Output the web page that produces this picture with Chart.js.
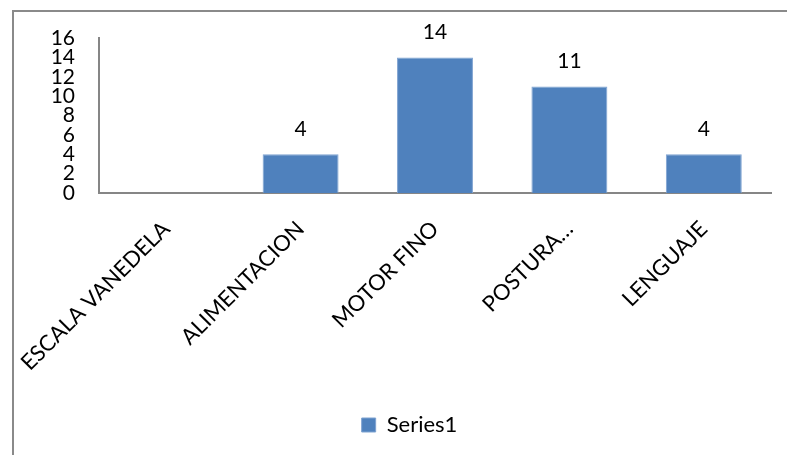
<!DOCTYPE html>
<html>
<head>
<meta charset="utf-8">
<script src="https://cdn.jsdelivr.net/npm/chart.js@4.4.1/dist/chart.umd.min.js"></script>
<style>
  html, body { margin: 0; padding: 0; background: #fff; overflow: hidden; }
  #wrap { position: relative; width: 787px; height: 455px; }
  #frame { position: absolute; left: 12px; top: 10px; width: 800px; height: 470px; border-left: 2px solid #8a8a8a; border-top: 2px solid #8a8a8a; box-sizing: border-box; pointer-events: none; }
  canvas { position: absolute; left: 0; top: 0; }
</style>
</head>
<body>
<div id="wrap">
  <canvas id="c" width="787" height="455"></canvas>
  <div id="frame"></div>
</div>
<script>
const categories = ["ESCALA VANEDELA", "ALIMENTACION", "MOTOR FINO", "POSTURA\u2026", "LENGUAJE"];
const seriesName = "Series1";
const seriesValues = [null, 4, 14, 11, 4];
const yTicks = [0, 2, 4, 6, 8, 10, 12, 14, 16];

const FONT = "Lato, 'Open Sans', sans-serif";

const valueLabels = {
  id: 'valueLabels',
  afterDatasetsDraw(chart) {
    const ctx = chart.ctx;
    const meta = chart.getDatasetMeta(0);
    ctx.save();
    ctx.font = "21px " + FONT;
    ctx.fillStyle = "#000";
    ctx.textAlign = "center";
    ctx.textBaseline = "alphabetic";
    meta.data.forEach((bar, i) => {
      const v = seriesValues[i];
      if (v === null || v === undefined) return;
      ctx.fillText(String(v), bar.x, bar.y - 18);
    });
    ctx.restore();
  }
};

const legendShift = {
  id: 'legendShift',
  afterLayout(chart) {
    if (chart.legend) {
      chart.legend.left += 24;
      chart.legend.right += 24;
    }
  }
};

new Chart(document.getElementById('c'), {
  type: 'bar',
  data: {
    labels: categories,
    datasets: [{
      label: seriesName,
      data: seriesValues,
      backgroundColor: '#4F81BD',
      borderColor: '#7FA3D1',
      borderWidth: 1,
      barPercentage: 0.565,
      categoryPercentage: 1.0
    }]
  },
  options: {
    responsive: false,
    animation: false,
    devicePixelRatio: 1,
    layout: { padding: { left: 0, top: 38, right: 16, bottom: 9 } },
    plugins: {
      legend: {
        position: 'bottom',
        labels: {
          font: { family: FONT, size: 22 },
          color: '#000',
          boxWidth: 14,
          boxHeight: 14,
          padding: 10
        }
      },
      tooltip: { enabled: false }
    },
    scales: {
      x: {
        grid: { display: false, drawTicks: false },
        border: { display: true, color: '#868686', width: 2 },
        ticks: {
          font: { family: FONT, size: 22 },
          color: '#000',
          minRotation: 45,
          maxRotation: 45,
          autoSkip: false,
          padding: 23
        },
        afterFit(scale) {
          scale.height = 211;
          scale.paddingLeft = 0;
          scale.paddingRight = 0;
        }
      },
      y: {
        min: 0,
        max: 16,
        grid: { display: false, drawTicks: false },
        border: { display: true, color: '#868686', width: 2 },
        afterBuildTicks(scale) { scale.ticks = yTicks.map(v => ({ value: v })); },
        ticks: {
          stepSize: 2,
          autoSkip: false,
          font: { family: FONT, size: 21, lineHeight: 1 },
          color: '#000',
          padding: 24
        },
        afterFit(scale) {
          scale.width = 99;
          scale.paddingTop = 0;
          scale.paddingBottom = 0;
        }
      }
    }
  },
  plugins: [valueLabels, legendShift]
});
</script>
</body>
</html>
